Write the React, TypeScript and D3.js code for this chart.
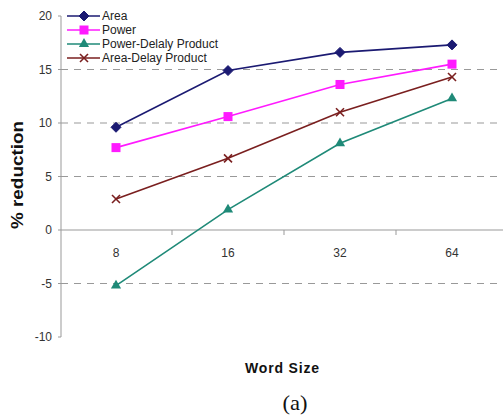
import React from "react";
import * as d3 from "d3";

const categories = ["8", "16", "32", "64"];
const areaValues = [9.6, 14.9, 16.6, 17.3];
const powerValues = [7.7, 10.6, 13.6, 15.5];
const pdpValues = [-5.2, 1.9, 8.1, 12.3];
const adpValues = [2.9, 6.7, 11.0, 14.3];
const yTicks = [-10, -5, 0, 5, 10, 15, 20];
const gridTicks = [-5, 5, 10, 15];
const seriesNames = ["Area", "Power", "Power-Delaly Product", "Area-Delay Product"];

const W = 503, H = 416;
const x = d3.scaleBand<string>().domain(categories).range([60, 508]);
const y = d3.scaleLinear().domain([-10, 20]).range([337, 16]);

const series = [
  { name: seriesNames[0], values: areaValues, color: "#1b1a72", marker: "diamond" },
  { name: seriesNames[1], values: powerValues, color: "#ff1aff", marker: "square" },
  { name: seriesNames[2], values: pdpValues, color: "#1f8a78", marker: "triangle" },
  { name: seriesNames[3], values: adpValues, color: "#7a1f1f", marker: "x" },
];

function Marker({ type, cx, cy, color }: { type: string; cx: number; cy: number; color: string }) {
  if (type === "diamond") {
    return (
      <path
        d={`M${cx},${cy - 5}L${cx + 5},${cy}L${cx},${cy + 5}L${cx - 5},${cy}Z`}
        fill={color}
        stroke={color}
        strokeWidth={1}
        strokeLinejoin="round"
      />
    );
  }
  if (type === "square") {
    return <rect x={cx - 4.5} y={cy - 4.5} width={9} height={9} fill={color} />;
  }
  if (type === "triangle") {
    const p = d3.symbol(d3.symbolTriangle, 45)();
    return <path d={p!} transform={`translate(${cx},${cy})`} fill={color} />;
  }
  return (
    <g stroke={color} strokeWidth={1.6}>
      <line x1={cx - 4} y1={cy - 4} x2={cx + 4} y2={cy + 4} />
      <line x1={cx - 4} y1={cy + 4} x2={cx + 4} y2={cy - 4} />
    </g>
  );
}

export default function App() {
  const line = d3
    .line<number>()
    .x((_, i) => x(categories[i])! + x.bandwidth() / 2)
    .y((d) => y(d));
  const font = "Arial, 'Liberation Sans', sans-serif";
  return (
    <svg width={W} height={H} style={{ position: "absolute", left: 0, top: 0 }}>
      <rect width={W} height={H} fill="#fff" />
      {gridTicks.map((t) => (
        <line key={t} x1={61} x2={W} y1={y(t)} y2={y(t)} stroke="#999" strokeDasharray="7,6" strokeWidth={1} />
      ))}
      <line x1={61} x2={W} y1={y(0)} y2={y(0)} stroke="#999" strokeWidth={1} />
      {categories.slice(1).map((c) => (
        <line key={c} x1={x(c)!} x2={x(c)!} y1={y(0)} y2={y(0) + 5} stroke="#999" />
      ))}
      {categories.map((c) => (
        <text key={c} x={x(c)! + x.bandwidth() / 2} y={y(0) + 27} textAnchor="middle" fontFamily={font} fontSize={12} fill="#333">
          {c}
        </text>
      ))}
      <line x1={61} x2={61} y1={y(20)} y2={y(-10)} stroke="#999" />
      {yTicks.map((t) => (
        <g key={t}>
          <line x1={58} x2={61} y1={y(t)} y2={y(t)} stroke="#999" />
          <text x={52} y={y(t) + 4} textAnchor="end" fontFamily={font} fontSize={12} fill="#333">
            {t}
          </text>
        </g>
      ))}
      {series.map((s) => (
        <g key={s.name}>
          <path d={line(s.values)!} fill="none" stroke={s.color} strokeWidth={1.6} />
          {s.values.map((v, i) => (
            <Marker key={i} type={s.marker} cx={x(categories[i])! + x.bandwidth() / 2} cy={y(v)} color={s.color} />
          ))}
        </g>
      ))}
      {series.map((s, i) => {
        const ly = 16 + i * 14;
        return (
          <g key={s.name}>
            <line x1={67} x2={100} y1={ly} y2={ly} stroke={s.color} strokeWidth={1.6} />
            <Marker type={s.marker} cx={84} cy={ly} color={s.color} />
            <text x={102} y={ly + 4} fontFamily={font} fontSize={12} fill="#222">
              {s.name}
            </text>
          </g>
        );
      })}
      <text
        transform={`translate(23,175) rotate(-90)`}
        textAnchor="middle"
        fontFamily={font}
        fontSize={16}
        fontWeight="bold"
        fill="#111"
        textLength={108}
        lengthAdjust="spacingAndGlyphs"
      >
        % reduction
      </text>
      <text x={282} y={373} textAnchor="middle" fontFamily={font} fontSize={14} fontWeight="bold" fill="#111" textLength={74} lengthAdjust="spacing">
        Word Size
      </text>
      <text x={295} y={410} textAnchor="middle" fontFamily="'Liberation Serif', 'Times New Roman', serif" fontSize={22} fill="#111" textLength={25} lengthAdjust="spacingAndGlyphs">
        (a)
      </text>
    </svg>
  );
}
